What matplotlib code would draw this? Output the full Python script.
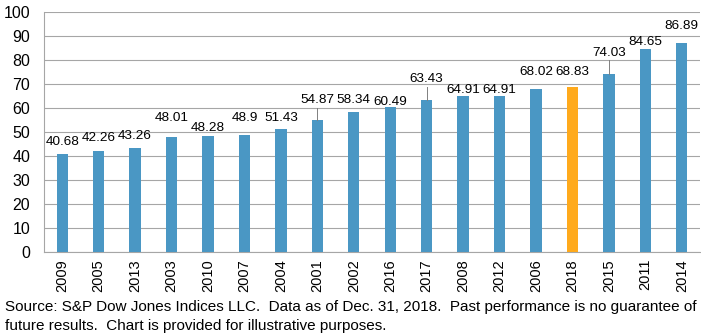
import matplotlib.pyplot as plt
import numpy as np

plt.rcParams["font.family"] = ["Liberation Sans", "DejaVu Sans"]

# P/E by calendar year, sorted ascending
years = ["2009", "2005", "2013", "2003", "2010", "2007", "2004", "2001", "2002",
         "2016", "2017", "2008", "2012", "2006", "2018", "2015", "2011", "2014"]
values = [40.68, 42.26, 43.26, 48.01, 48.28, 48.9, 51.43, 54.87, 58.34,
          60.49, 63.43, 64.91, 64.91, 68.02, 68.83, 74.03, 84.65, 86.89]
# where each value label sits (data units), pushed up where labels collide
label_y = [45.8, 47.4, 48.4, 56.0, 51.7, 56.0, 56.0, 63.3, 63.3,
           62.5, 72.0, 67.5, 67.5, 75.0, 75.0, 83.0, 87.5, 94.0]
leader_years = {"2001", "2017", "2015"}
highlight = "2018"

blue = "#4A97C4"
orange = "#FFAA1C"
grid_col = "#A6A6A6"

fig = plt.figure(figsize=(7.01, 3.35), dpi=100)
ax = fig.add_axes([44 / 701, 83 / 335, 656 / 701, 240 / 335])

x = np.arange(len(years))
colors = [orange if y == highlight else blue for y in years]
ax.bar(x, values, width=0.31, color=colors, zorder=3)

for xi, yr, v, ly in zip(x, years, values, label_y):
    ax.text(xi, ly, f"{v:g}", ha="center", va="center", fontsize=9.7, zorder=4)
    if yr in leader_years:
        ax.plot([xi, xi], [v, ly - 3.2], color="#808080", lw=0.7, zorder=4)

ax.set_xlim(-0.5, len(years) - 0.5)
ax.set_ylim(0, 100)
ax.set_yticks(range(0, 101, 10))
ax.set_xticks(x)
ax.set_xticklabels(years, rotation=90, fontsize=10.5)
ax.tick_params(axis="y", labelsize=11.5, length=0, pad=10)
ax.tick_params(axis="x", length=0, pad=5)

ax.grid(axis="y", color=grid_col, lw=0.8, zorder=0)
for side in ("top", "right"):
    ax.spines[side].set_visible(False)
for side in ("left", "bottom"):
    ax.spines[side].set_color(grid_col)
    ax.spines[side].set_linewidth(0.8)

fig.text(5 / 701, 1 - 307 / 335,
         "Source: S&P Dow Jones Indices LLC.  Data as of Dec. 31, 2018.  "
         "Past performance is no guarantee of",
         fontsize=11, va="center", ha="left")
fig.text(5 / 701, 1 - 326 / 335,
         "future results.  Chart is provided for illustrative purposes.",
         fontsize=11, va="center", ha="left")

fig.savefig("out.png", dpi=100)
